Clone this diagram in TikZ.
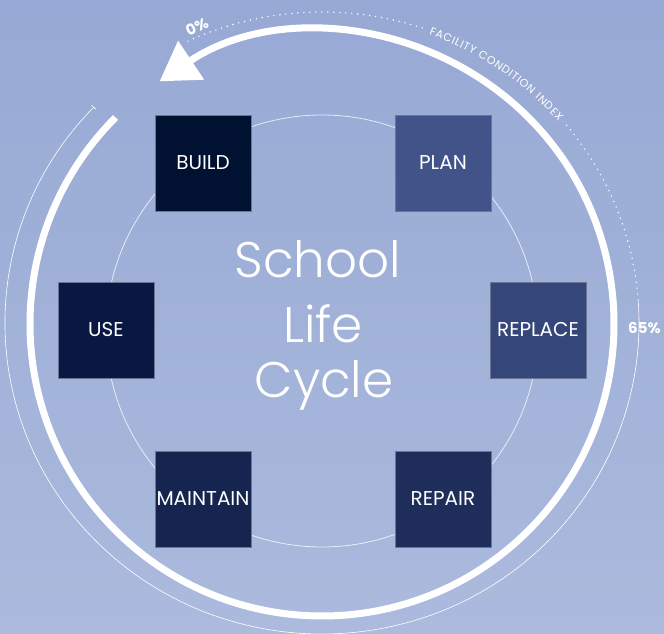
\documentclass[tikz,border=0pt]{standalone}
\usepackage{fontspec}
\usetikzlibrary{arrows.meta,decorations.text}
\newfontfamily\popfont{Poppins}
\newfontfamily\poplight{Poppins Light}
\definecolor{bgtop}{HTML}{97A9D4}
\definecolor{bgbottom}{HTML}{ABBADD}
\definecolor{buildcol}{HTML}{011132}
\definecolor{plancol}{HTML}{425389}
\definecolor{usecol}{HTML}{081842}
\definecolor{replacecol}{HTML}{34467A}
\definecolor{maintaincol}{HTML}{162450}
\definecolor{repaircol}{HTML}{1E2D5A}

\begin{document}
\begin{tikzpicture}[x=1pt,y=1pt,
        stage/.style={draw=bgtop!70!black, line width=0.5pt, minimum size=96pt, inner sep=0pt,
            text=white, font=\popfont\fontsize{20}{23}\selectfont},
        bigword/.style={anchor=base, text=white, font=\poplight\fontsize{50}{60}\selectfont},
        pct/.style={text=white, font=\popfont\bfseries\fontsize{15}{18}\selectfont, inner sep=0pt},
        dots/.style={white, line width=1.6pt, line cap=round, dash pattern=on 0pt off 6pt}]
    \useasboundingbox (-322,-306) rectangle (342,328);
    \shade[top color=bgtop, bottom color=bgbottom] (-322,-306) rectangle (342,328);

    \coordinate (inner) at (0,-3);
    \coordinate (cycle) at (0,4);
    \coordinate (fci) at (0,5);

    \draw[white, opacity=0.75, line width=0.8pt] (inner) circle[radius=216];

    \draw[white, line width=7pt, -{Triangle[length=38pt,width=45pt]}]
        ([shift={(135:292)}]cycle) arc[start angle=135, end angle=483.8, radius=292];

    \draw[dots] ([shift={(115:317 and 311)}]fci) arc[start angle=115, end angle=71.5, x radius=317, y radius=311];
    \path[decorate, decoration={text along path, text align=fit to path, raise=-4pt, text color=white,
            text={|\popfont\fontsize{11}{12}\selectfont|FACILITY CONDITION INDEX}}]
        ([shift={(70:317 and 311)}]fci) arc[start angle=70, end angle=41, x radius=317, y radius=311];
    \draw[dots] ([shift={(39.5:317 and 311)}]fci) arc[start angle=39.5, end angle=4, x radius=317, y radius=311];
    \draw[white, line width=0.6pt, {Bar[width=6pt]}-]
        ([shift={(136:317 and 311)}]fci) arc[start angle=136, end angle=364, x radius=317, y radius=311];

    \node[pct, rotate=25] at (-125,301) (zero) {0\%};
    \node[pct, anchor=west] at (306,0) (sixtyfive) {65\%};

    \node[stage, fill=buildcol] at (-119,165) (build) {BUILD};
    \node[stage, fill=plancol] at (121,165) (plan) {PLAN};
    \node[stage, fill=usecol] at (-216,-2) (use) {USE};
    \node[stage, fill=replacecol] at (216,-2) (replace) {REPLACE};
    \node[stage, fill=maintaincol] at (-119,-171) (maintain) {MAINTAIN};
    \node[stage, fill=repaircol] at (121,-171) (repair) {REPAIR};

    \node[bigword] at (-4,50) (school) {School};
    \node[bigword] at (1,-15) (life) {Life};
    \node[bigword] at (2,-70) (lifecycle) {Cycle};
\end{tikzpicture}
\end{document}
